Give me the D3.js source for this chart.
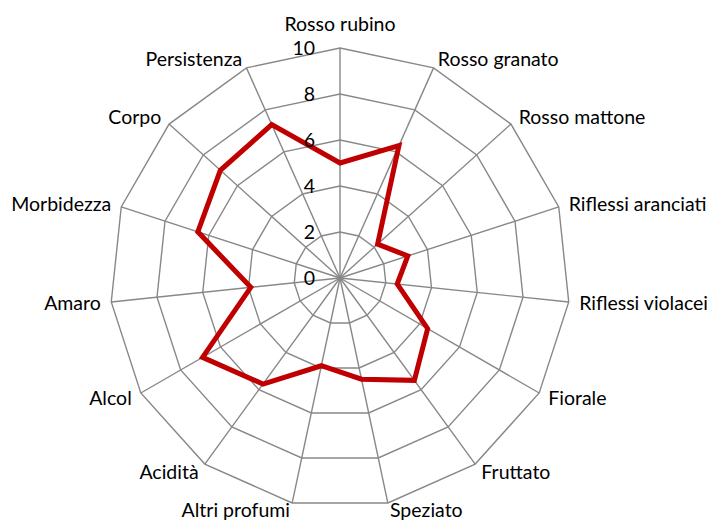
<!DOCTYPE html>
<html>
<head>
<meta charset="utf-8">
<script src="https://cdn.jsdelivr.net/npm/d3@7"></script>
<style>
  html, body { margin: 0; padding: 0; background: #ffffff; }
  svg { display: block; }
  text { font-family: Lato, "Liberation Sans", sans-serif; fill: #000; }
</style>
</head>
<body>
<svg id="chart" width="711" height="522"></svg>
<script>
const categories = ["Rosso rubino", "Rosso granato", "Rosso mattone", "Riflessi aranciati",
  "Riflessi violacei", "Fiorale", "Fruttato", "Speziato", "Altri profumi", "Acidità",
  "Alcol", "Amaro", "Morbidezza", "Corpo", "Persistenza"];
const seriesValues = [5, 6.3, 2.2, 3.1, 2.5, 4.4, 5.5, 4.5, 3.9, 5.7, 6.9, 3.9, 6.5, 7.0, 7.3];
const tickValues = [0, 2, 4, 6, 8, 10];
const ringValues = [2, 4, 6, 8, 10];

const W = 711, H = 522;
const cx = 340, cy = 278;
const svg = d3.select("#chart");
const g = svg.append("g").attr("transform", `translate(${cx},${cy})`);

const r = d3.scaleLinear().domain([0, 10]).range([0, 230]);
const ang = d3.scaleLinear().domain([0, categories.length]).range([0, 2 * Math.PI]);
const idx = d3.range(categories.length);

const gridColor = "#888888";

// rings
const ringLine = d3.lineRadial().curve(d3.curveLinearClosed);
g.append("g").selectAll("path").data(ringValues).join("path")
  .attr("d", v => ringLine(idx.map(i => [ang(i), r(v)])))
  .attr("fill", "none").attr("stroke", gridColor).attr("stroke-width", 1.4);

// spokes
g.append("g").selectAll("line").data(idx).join("line")
  .attr("x1", 0).attr("y1", 0)
  .attr("x2", i => r(10) * Math.sin(ang(i)))
  .attr("y2", i => -r(10) * Math.cos(ang(i)))
  .attr("stroke", gridColor).attr("stroke-width", 1.4);

// series
g.append("path")
  .datum(seriesValues)
  .attr("d", d3.lineRadial().curve(d3.curveLinearClosed)
    .angle((d, i) => ang(i)).radius(d => r(d)))
  .attr("fill", "none").attr("stroke", "#C00000")
  .attr("stroke-width", 5).attr("stroke-linejoin", "miter");

// tick labels
g.append("g").selectAll("text").data(tickValues).join("text")
  .attr("x", -25).attr("y", v => -r(v))
  .attr("dy", "0.36em")
  .attr("text-anchor", "end")
  .style("font-size", "19.5px")
  .text(v => v);

// category labels
g.append("g").selectAll("text").data(idx).join("text")
  .each(function (i) {
    const a = ang(i), s = Math.sin(a), c = Math.cos(a);
    const vx = r(10) * s, vy = -r(10) * c;
    const t = d3.select(this);
    if (Math.abs(s) < 0.1) {
      t.attr("x", vx).attr("y", vy - 24).attr("text-anchor", "middle");
    } else {
      const extra = c < -0.9 ? -3 : 0;
      t.attr("x", vx + 10.5 * s).attr("y", vy - 10 * c + extra)
       .attr("text-anchor", s > 0 ? "start" : "end");
    }
  })
  .attr("dy", "0.36em")
  .style("font-size", "19.5px")
  .text(i => categories[i]);
</script>
</body>
</html>
